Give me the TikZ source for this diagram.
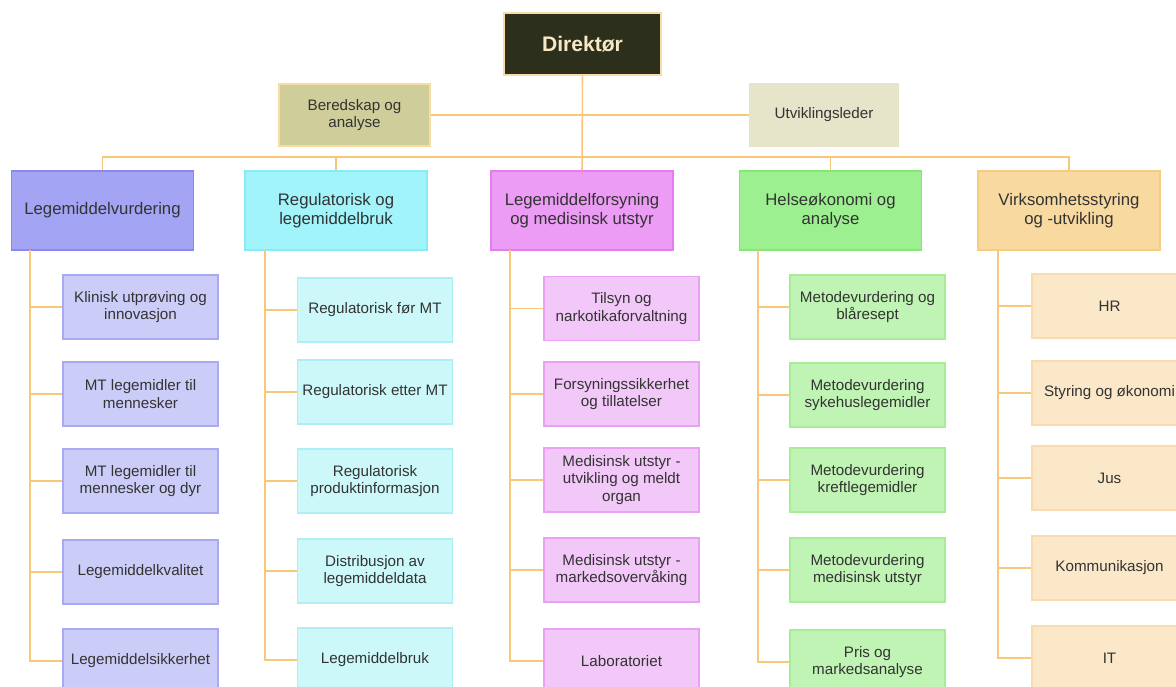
\documentclass[tikz,border=0pt]{standalone}
\usepackage{fontspec}
\setmainfont{Liberation Sans}
\definecolor{txtgray}{HTML}{333333}
\definecolor{linecol}{HTML}{F8C878}
\definecolor{dirfill}{HTML}{2B2F1B}
\definecolor{dirtext}{HTML}{F8E8C4}
\definecolor{berfill}{HTML}{CFCD99}
\definecolor{utvfill}{HTML}{E6E4C9}
\definecolor{lightedge}{HTML}{F7DCA5}
\definecolor{lvfill}{HTML}{A4A4F4}\definecolor{lvedge}{HTML}{8888F0}
\definecolor{lvsub}{HTML}{CCCCF8}\definecolor{lvsubedge}{HTML}{AAAAF2}
\definecolor{rlfill}{HTML}{A0F4FA}\definecolor{rledge}{HTML}{86ECF6}
\definecolor{rlsub}{HTML}{CCF8FA}\definecolor{rlsubedge}{HTML}{ACF0F6}
\definecolor{lffill}{HTML}{EC9CF4}\definecolor{lfedge}{HTML}{E47CF0}
\definecolor{lfsub}{HTML}{F2C8F8}\definecolor{lfsubedge}{HTML}{EAA0F4}
\definecolor{hefill}{HTML}{9CF090}\definecolor{heedge}{HTML}{84E674}
\definecolor{hesub}{HTML}{C0F4B4}\definecolor{hesubedge}{HTML}{A8EC98}
\definecolor{vsfill}{HTML}{F8D9A0}\definecolor{vsedge}{HTML}{F5CC80}
\definecolor{vssub}{HTML}{FAE8C8}\definecolor{vssubedge}{HTML}{F8DCB0}
\begin{document}
\begin{tikzpicture}[x=0.025cm,y=-0.025cm,
  dirbox/.style={draw=lightedge, fill=dirfill, text=dirtext, line width=0.8pt,
    minimum width=3.925cm, minimum height=1.55cm, font=\fontsize{15}{17}\selectfont\bfseries},
  staffbox/.style={draw=lightedge, line width=0.8pt, text=txtgray, align=center,
    minimum height=1.55cm, font=\fontsize{10.8}{12.4}\selectfont},
  deptbox/.style={draw, line width=0.8pt, text=txtgray, align=center,
    minimum width=4.55cm, minimum height=1.975cm, font=\fontsize{11.9}{13.2}\selectfont},
  unitbox/.style={draw, line width=0.8pt, text=txtgray, align=center,
    minimum width=3.875cm, minimum height=1.6cm, font=\fontsize{10.8}{12.2}\selectfont},
  conn/.style={draw=linecol, line width=1.1pt}]
\useasboundingbox (0,0) rectangle (1176,686);
\clip (0,0) rectangle (1176,686);
% top
\node[dirbox] (dir) at (582.5,44) {Direktør};
\node[staffbox, fill=berfill, minimum width=3.775cm] (ber) at (354.5,115) {Beredskap og\\analyse};
\node[staffbox, fill=utvfill, draw=utvfill, minimum width=3.7cm] (utv) at (824,115) {Utviklingsleder};
% departments
\node[deptbox, fill=lvfill, draw=lvedge] (lv) at (102.5,210.5) {Legemiddelvurdering};
\node[deptbox, fill=rlfill, draw=rledge] (rl) at (336,210.5) {Regulatorisk og\\legemiddelbruk};
\node[deptbox, fill=lffill, draw=lfedge] (lf) at (582,210.5) {Legemiddelforsyning\\og medisinsk utstyr};
\node[deptbox, fill=hefill, draw=heedge] (he) at (830.5,210.5) {Helseøkonomi og\\analyse};
\node[deptbox, fill=vsfill, draw=vsedge] (vs) at (1069,210.5) {Virksomhetsstyring\\og -utvikling};
% units
\node[unitbox, fill=lvsub, draw=lvsubedge] (lv1) at (140.5,307) {Klinisk utprøving og\\innovasjon};
\node[unitbox, fill=lvsub, draw=lvsubedge] (lv2) at (140.5,394) {MT legemidler til\\mennesker};
\node[unitbox, fill=lvsub, draw=lvsubedge] (lv3) at (140.5,481) {MT legemidler til\\mennesker og dyr};
\node[unitbox, fill=lvsub, draw=lvsubedge] (lv4) at (140.5,572) {Legemiddelkvalitet};
\node[unitbox, fill=lvsub, draw=lvsubedge] (lv5) at (140.5,661) {Legemiddelsikkerhet};
\node[unitbox, fill=rlsub, draw=rlsubedge] (rl1) at (375,310) {Regulatorisk før MT};
\node[unitbox, fill=rlsub, draw=rlsubedge] (rl2) at (375,392) {Regulatorisk etter MT};
\node[unitbox, fill=rlsub, draw=rlsubedge] (rl3) at (375,481) {Regulatorisk\\produktinformasjon};
\node[unitbox, fill=rlsub, draw=rlsubedge] (rl4) at (375,571) {Distribusjon av\\legemiddeldata};
\node[unitbox, fill=rlsub, draw=rlsubedge] (rl5) at (375,660) {Legemiddelbruk};
\node[unitbox, fill=lfsub, draw=lfsubedge] (lf1) at (621.5,308.5) {Tilsyn og\\narkotikaforvaltning};
\node[unitbox, fill=lfsub, draw=lfsubedge] (lf2) at (621.5,394) {Forsyningssikkerhet\\og tillatelser};
\node[unitbox, fill=lfsub, draw=lfsubedge] (lf3) at (621.5,480) {Medisinsk utstyr -\\utvikling og meldt\\organ};
\node[unitbox, fill=lfsub, draw=lfsubedge] (lf4) at (621.5,570) {Medisinsk utstyr -\\markedsovervåking};
\node[unitbox, fill=lfsub, draw=lfsubedge] (lf5) at (621.5,661) {Laboratoriet};
\node[unitbox, fill=hesub, draw=hesubedge] (he1) at (867.5,307) {Metodevurdering og\\blåresept};
\node[unitbox, fill=hesub, draw=hesubedge] (he2) at (867.5,395) {Metodevurdering\\sykehuslegemidler};
\node[unitbox, fill=hesub, draw=hesubedge] (he3) at (867.5,480) {Metodevurdering\\kreftlegemidler};
\node[unitbox, fill=hesub, draw=hesubedge] (he4) at (867.5,570) {Metodevurdering\\medisinsk utstyr};
\node[unitbox, fill=hesub, draw=hesubedge] (he5) at (867.5,662) {Pris og\\markedsanalyse};
\node[unitbox, fill=vssub, draw=vssubedge] (vs1) at (1109.5,306) {HR};
\node[unitbox, fill=vssub, draw=vssubedge] (vs2) at (1109.5,393) {Styring og økonomi};
\node[unitbox, fill=vssub, draw=vssubedge] (vs3) at (1109.5,478) {Jus};
\node[unitbox, fill=vssub, draw=vssubedge] (vs4) at (1109.5,568) {Kommunikasjon};
\node[unitbox, fill=vssub, draw=vssubedge] (vs5) at (1109.5,658) {IT};
% connectors
\coordinate (bus) at (582,157);
\coordinate (lvs) at (30,250);
\coordinate (rls) at (265,250);
\coordinate (lfs) at (510,250);
\coordinate (hes) at (758,250);
\coordinate (vss) at (998,250);
\draw[conn] (ber.east) -- (utv.west);
\draw[conn] (dir.south) -- (lf.north);
\draw[conn] (lv.north) |- (bus) -| (vs.north);
\draw[conn] (rl.north) -- (rl.north |- bus);
\draw[conn] (he.north) -- (he.north |- bus);
\draw[conn] (lvs) |- (lv1.west);
\draw[conn] (lvs) |- (lv2.west);
\draw[conn] (lvs) |- (lv3.west);
\draw[conn] (lvs) |- (lv4.west);
\draw[conn] (lvs) |- (lv5.west);
\draw[conn] (rls) |- (rl1.west);
\draw[conn] (rls) |- (rl2.west);
\draw[conn] (rls) |- (rl3.west);
\draw[conn] (rls) |- (rl4.west);
\draw[conn] (rls) |- (rl5.west);
\draw[conn] (lfs) |- (lf1.west);
\draw[conn] (lfs) |- (lf2.west);
\draw[conn] (lfs) |- (lf3.west);
\draw[conn] (lfs) |- (lf4.west);
\draw[conn] (lfs) |- (lf5.west);
\draw[conn] (hes) |- (he1.west);
\draw[conn] (hes) |- (he2.west);
\draw[conn] (hes) |- (he3.west);
\draw[conn] (hes) |- (he4.west);
\draw[conn] (hes) |- (he5.west);
\draw[conn] (vss) |- (vs1.west);
\draw[conn] (vss) |- (vs2.west);
\draw[conn] (vss) |- (vs3.west);
\draw[conn] (vss) |- (vs4.west);
\draw[conn] (vss) |- (vs5.west);
\end{tikzpicture}
\end{document}
